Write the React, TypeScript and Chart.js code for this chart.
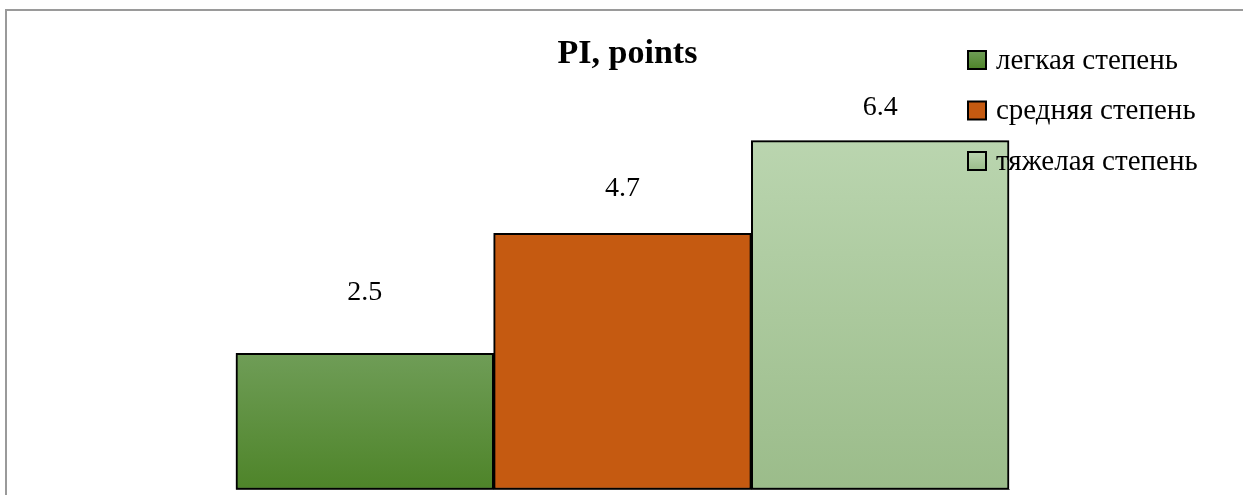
import React, { useEffect, useRef } from "react";
import { Chart, registerables } from "chart.js";

Chart.register(...registerables);

const categories = [""];
const titleText = "PI, points";
const seriesNames = ["легкая степень", "средняя степень", "тяжелая степень"];
const seriesValues = [2.5, 4.7, 6.4];
const barTopColors = ["#6F9D57", "#C55A11", "#BAD5AF"];
const barBottomColors = ["#4E8429", "#C55A11", "#9BBC8A"];

const W = 1243;
const H = 495;
const SERIF = "'Liberation Serif', 'Times New Roman', serif";

const decorPlugin = {
  id: "decor",
  beforeDraw(chart: any) {
    const ctx = chart.ctx;
    ctx.save();
    ctx.fillStyle = "#ffffff";
    ctx.fillRect(0, 0, chart.width, chart.height);
    ctx.strokeStyle = "#9a9a9a";
    ctx.lineWidth = 2;
    ctx.beginPath();
    ctx.moveTo(6, chart.height + 5);
    ctx.lineTo(6, 10);
    ctx.lineTo(chart.width + 5, 10);
    ctx.stroke();
    ctx.restore();
  },
  beforeDatasetsDraw(chart: any) {
    const ctx = chart.ctx;
    ctx.save();
    ctx.shadowColor = "rgba(0,0,0,0.3)";
    ctx.shadowBlur = 6;
    ctx.shadowOffsetX = -1;
    ctx.shadowOffsetY = 0;
  },
  afterDatasetsDraw(chart: any) {
    chart.ctx.restore();
  },
  afterDraw(chart: any) {
    const ctx = chart.ctx;
    const area = chart.chartArea;
    const yScale = chart.scales.y;
    ctx.save();
    // Title
    ctx.fillStyle = "#000";
    ctx.font = `bold 34px ${SERIF}`;
    ctx.textAlign = "center";
    ctx.textBaseline = "alphabetic";
    ctx.fillText(titleText, (area.left + area.right) / 2 + 5, 63);

    // Data labels
    ctx.font = `28px ${SERIF}`;
    chart.data.datasets.forEach((ds: any, i: number) => {
      const meta = chart.getDatasetMeta(i);
      meta.data.forEach((bar: any, j: number) => {
        const v = ds.data[j];
        const y = yScale.getPixelForValue(v * 0.87 + 1.3);
        ctx.fillText(String(v.toFixed(1)), bar.x, y);
      });
    });

    // Legend
    ctx.textAlign = "left";
    ctx.textBaseline = "middle";
    ctx.font = `29px ${SERIF}`;
    const lx = 968;
    const ly0 = 60;
    const step = 50.5;
    const sz = 18;
    chart.data.datasets.forEach((ds: any, i: number) => {
      const cy = ly0 + i * step;
      const g = ctx.createLinearGradient(0, cy - sz / 2, 0, cy + sz / 2);
      g.addColorStop(0, barTopColors[i]);
      g.addColorStop(1, barBottomColors[i]);
      ctx.fillStyle = g;
      ctx.fillRect(lx, cy - sz / 2, sz, sz);
      ctx.strokeStyle = "#000";
      ctx.lineWidth = 2;
      ctx.strokeRect(lx, cy - sz / 2, sz, sz);
      ctx.fillStyle = "#000";
      ctx.fillText(ds.label, lx + 28, cy + 1);
    });
    ctx.restore();
  },
};

export default function App() {
  const ref = useRef<HTMLCanvasElement | null>(null);

  useEffect(() => {
    if (!ref.current) return;
    const chart = new Chart(ref.current, {
      type: "bar",
      data: {
        labels: categories,
        datasets: seriesNames.map((name, i) => ({
          label: name,
          data: [seriesValues[i]],
          backgroundColor: (c: any) => {
            const ch = c.chart;
            const area = ch.chartArea;
            if (!area || c.raw === undefined) return barBottomColors[i];
            const top = ch.scales.y.getPixelForValue(c.raw);
            const g = ch.ctx.createLinearGradient(0, top, 0, area.bottom);
            g.addColorStop(0, barTopColors[i]);
            g.addColorStop(1, barBottomColors[i]);
            return g;
          },
          borderColor: "#000000",
          borderWidth: 2,
          borderSkipped: false,
          categoryPercentage: 1,
          barPercentage: 1,
          clip: false as any,
        })),
      },
      options: {
        animation: false,
        responsive: false,
        layout: {
          padding: { left: 236, right: W - 1009, top: 53.5, bottom: H - 489.5 },
        },
        plugins: {
          legend: { display: false },
          title: { display: false },
          tooltip: { enabled: false },
        },
        scales: {
          x: {
            display: true,
            grid: { display: false, drawTicks: false },
            ticks: { display: false },
            border: { display: true, color: "#8a8a8a", width: 1 },
          },
          y: {
            display: false,
            min: 0,
            max: 8,
          },
        },
      },
      plugins: [decorPlugin],
    });
    return () => chart.destroy();
  }, []);

  return (
    <div style={{ position: "fixed", left: 0, top: 0, width: W, height: H, background: "#fff" }}>
      <canvas ref={ref} width={W} height={H} style={{ display: "block", width: W, height: H }} />
    </div>
  );
}
